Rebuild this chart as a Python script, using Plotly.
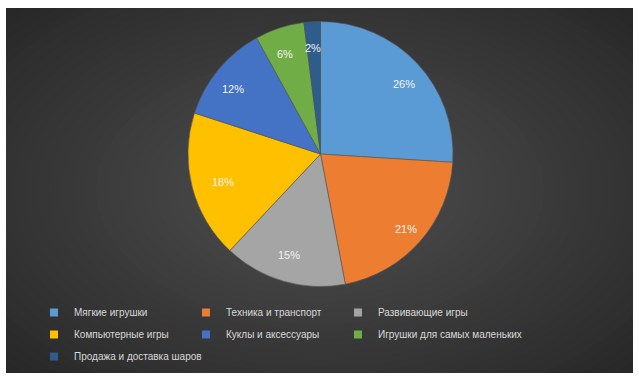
import math
import plotly.graph_objects as go

categories = ["Мягкие игрушки", "Техника и транспорт", "Развивающие игры",
              "Компьютерные игры", "Куклы и аксессуары",
              "Игрушки для самых маленьких", "Продажа и доставка шаров"]
shares = [26, 21, 15, 18, 12, 6, 2]
colors = ["#5B9BD5", "#ED7D31", "#A5A5A5", "#FFC000", "#4472C4", "#70AD47", "#2E5D8C"]

W, H = 639, 382
PCX, PCY, PR = 320.5, 154, 132.5  # pie centre / radius in pixels
NCOL = 3


def px(x):
    return x / W


def py(y):
    return 1 - y / H


fig = go.Figure()
fig.add_trace(go.Pie(
    labels=categories, values=shares, sort=False, direction="clockwise",
    rotation=0, marker=dict(colors=colors, line=dict(width=0.6, color="#555555")),
    textinfo="none", hoverinfo="label+percent",
    domain=dict(x=[px(PCX - PR), px(PCX + PR)], y=[py(PCY + PR), py(PCY - PR)]),
    showlegend=False,
))

# legend entries (one legend per column, entries flow left-to-right, top-to-bottom)
for i, (name, col) in enumerate(zip(categories, colors)):
    lg = "legend" if i % NCOL == 0 else "legend%d" % (i % NCOL + 1)
    fig.add_trace(go.Scatter(
        x=[None], y=[None], mode="markers", name=name, legend=lg,
        legendgroup="g%d" % i,
        marker=dict(symbol="square", size=8, color=col, line=dict(width=0)),
        hoverinfo="skip",
    ))

# percentage labels placed along each slice's bisector
total = sum(shares)
annotations = []
cum = 0
for v in shares:
    th = 2 * math.pi * (cum + v / 2) / total
    cum += v
    rr = 0.86 * PR
    lx = PCX + rr * math.sin(th)
    ly = PCY - rr * math.cos(th)
    annotations.append(dict(x=px(lx), y=py(ly), xref="paper", yref="paper",
                            text="%d%%" % round(100 * v / total), showarrow=False,
                            font=dict(family="Liberation Sans", size=11, color="#F2F2F2")))

# background: radial gradient approximation
shapes = []
x0, x1, y0, y1 = px(6), px(633), py(373), py(8)
shapes.append(dict(type="rect", xref="paper", yref="paper", x0=x0, x1=x1, y0=y0, y1=y1,
                   fillcolor="#262626", line=dict(width=0), layer="below"))
gcx, gcy = 320, 190
N = 40
c_out, c_in = (0x26, 0x26, 0x26), (0x50, 0x50, 0x50)
rmax = 460
for i in range(N):
    t = i / (N - 1)
    s = 1 - t
    col = tuple(int(round(c_out[k] + (c_in[k] - c_out[k]) * t)) for k in range(3))
    shapes.append(dict(type="circle", xref="paper", yref="paper",
                       x0=px(gcx - rmax * s), x1=px(gcx + rmax * s),
                       y0=py(gcy + 0.6 * rmax * s), y1=py(gcy - 0.6 * rmax * s),
                       fillcolor="rgb(%d,%d,%d)" % col, line=dict(width=0), layer="below"))
# white mask around chart area
for (a, b, c, d) in [(px(-20), x0, py(400), py(-20)), (x1, px(660), py(400), py(-20)),
                     (px(-20), px(660), py(400), y0), (px(-20), px(660), y1, py(-20))]:
    shapes.append(dict(type="rect", xref="paper", yref="paper", x0=a, x1=b, y0=c, y1=d,
                       fillcolor="white", line=dict(width=0), layer="below"))

legend_style = dict(orientation="v", xanchor="left", yanchor="top", y=py(298),
                    bgcolor="rgba(0,0,0,0)", borderwidth=0, tracegroupgap=3,
                    font=dict(family="Liberation Sans", size=10, color="#D9D9D9"),
                    traceorder="grouped")
col_text_x = [74, 226, 378]
fig.update_layout(
    width=W, height=H, margin=dict(l=0, r=0, t=0, b=0),
    paper_bgcolor="white", plot_bgcolor="rgba(0,0,0,0)",
    xaxis=dict(visible=False), yaxis=dict(visible=False),
    shapes=shapes, annotations=annotations,
    legend=dict(x=px(col_text_x[0] - 40), **legend_style),
    legend2=dict(x=px(col_text_x[1] - 40), **legend_style),
    legend3=dict(x=px(col_text_x[2] - 40), **legend_style),
)
fig.write_html("out.html")
